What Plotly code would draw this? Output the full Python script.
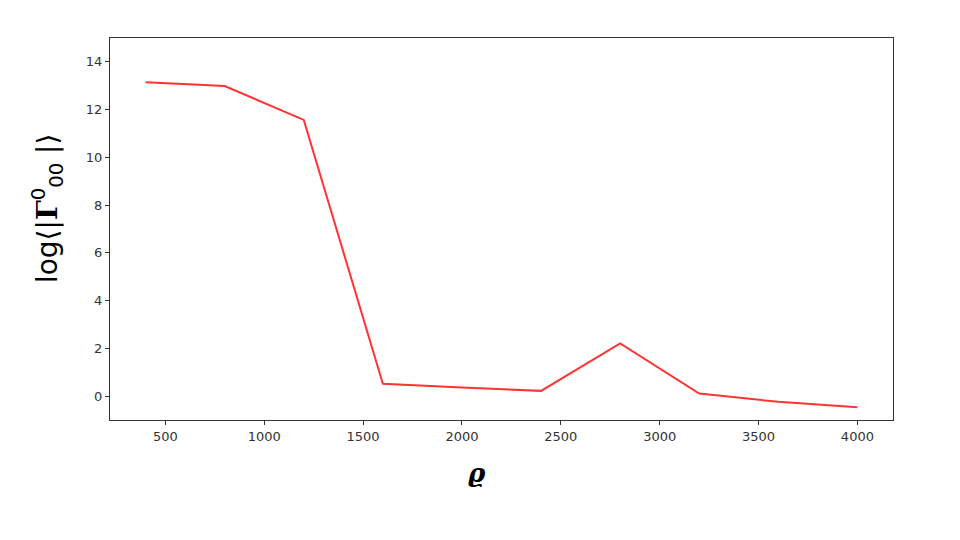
import plotly.graph_objects as go

rho = [400, 800, 1200, 1600, 2000, 2400, 2800, 3200, 3600, 4000]
log_gamma = [13.15, 12.99, 11.57, 0.52, 0.36, 0.22, 2.21, 0.11, -0.24, -0.47]

x_ticks = [500, 1000, 1500, 2000, 2500, 3000, 3500, 4000]
y_ticks = [0, 2, 4, 6, 8, 10, 12, 14]

fig = go.Figure()
fig.add_trace(go.Scatter(x=rho, y=log_gamma, mode="lines",
                         line=dict(color="rgba(255,0,0,0.8)", width=2)))

axis_common = dict(showgrid=False, zeroline=False, showline=True, linecolor="#333333",
                   linewidth=1, mirror=True, ticks="outside", ticklen=4, tickwidth=1,
                   tickcolor="#333333", tickfont=dict(family="DejaVu Sans", size=13, color="#333333"))

fig.update_xaxes(range=[220, 4180], tickvals=x_ticks, **axis_common)
fig.update_yaxes(range=[-1, 15], tickvals=y_ticks, **axis_common)

fig.add_annotation(text="log⟨|<span style='font-family:DejaVu Serif'><b>Γ</b></span><sup>0</sup><sub>00</sub> |⟩",
                   xref="paper", yref="paper", xanchor="center", yanchor="middle",
                   x=-0.079, y=0.555, textangle=-90, showarrow=False,
                   font=dict(family="DejaVu Sans", size=28, color="black"))
fig.add_annotation(text="<b><i>ϱ</i></b>", xref="paper", yref="paper",
                   xanchor="center", yanchor="middle",
                   x=0.4687, y=-0.139, showarrow=False,
                   font=dict(family="DejaVu Serif", size=26, color="black"))

fig.update_layout(width=960, height=540, plot_bgcolor="white", paper_bgcolor="white",
                  margin=dict(l=102, r=75, t=30, b=128), showlegend=False)

fig.write_html("out.html")
